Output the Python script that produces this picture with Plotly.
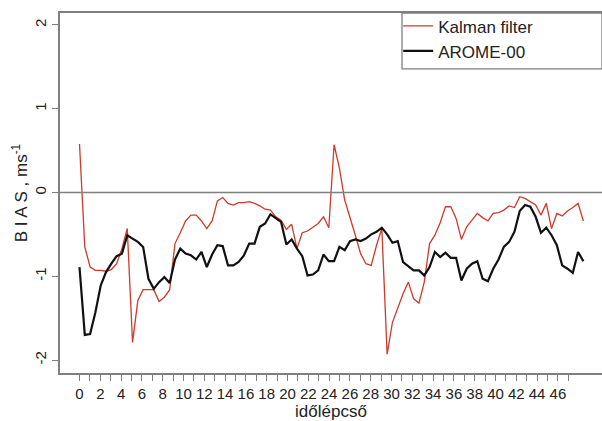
import plotly.graph_objects as go

# BIAS values, one value per half time step
kalman = [0.58, -0.65, -0.89, -0.93, -0.93, -0.94, -0.92, -0.85, -0.67, -0.43,
          -1.79, -1.29, -1.16, -1.16, -1.16, -1.30, -1.25, -1.16, -0.61, -0.48,
          -0.34, -0.27, -0.27, -0.34, -0.43, -0.34, -0.10, -0.06, -0.13, -0.15,
          -0.12, -0.12, -0.11, -0.13, -0.16, -0.20, -0.21, -0.29, -0.33, -0.44,
          -0.38, -0.67, -0.48, -0.46, -0.42, -0.37, -0.29, -0.42, 0.57, 0.29,
          -0.09, -0.29, -0.51, -0.73, -0.85, -0.87, -0.63, -0.43, -1.93, -1.55,
          -1.37, -1.21, -1.07, -1.27, -1.32, -1.07, -0.61, -0.51, -0.36, -0.17,
          -0.17, -0.31, -0.56, -0.41, -0.33, -0.25, -0.30, -0.34, -0.25, -0.24,
          -0.21, -0.16, -0.18, -0.05, -0.07, -0.11, -0.15, -0.27, -0.13, -0.43,
          -0.25, -0.28, -0.22, -0.18, -0.13, -0.34]

arome = [-0.89, -1.70, -1.69, -1.43, -1.11, -0.95, -0.85, -0.76, -0.73, -0.51,
         -0.55, -0.59, -0.65, -1.03, -1.15, -1.07, -1.01, -1.08, -0.80, -0.67,
         -0.73, -0.75, -0.80, -0.71, -0.89, -0.74, -0.63, -0.64, -0.87, -0.87,
         -0.83, -0.75, -0.61, -0.61, -0.41, -0.37, -0.26, -0.31, -0.35, -0.62,
         -0.56, -0.67, -0.76, -0.99, -0.98, -0.93, -0.74, -0.82, -0.82, -0.65,
         -0.69, -0.58, -0.56, -0.58, -0.55, -0.50, -0.47, -0.42, -0.50, -0.60,
         -0.58, -0.83, -0.88, -0.93, -0.93, -0.99, -0.89, -0.71, -0.77, -0.72,
         -0.78, -0.78, -1.05, -0.91, -0.85, -0.82, -1.03, -1.06, -0.91, -0.80,
         -0.65, -0.59, -0.47, -0.22, -0.15, -0.17, -0.29, -0.48, -0.42, -0.51,
         -0.63, -0.87, -0.91, -0.96, -0.71, -0.82]

step_width = 0.51
steps = [i * step_width for i in range(len(kalman))]

x_ticks = list(range(0, 48))
x_labels = [str(t) if t % 2 == 0 else "" for t in x_ticks]
y_ticks = [-2, -1, 0, 1, 2]

axis_col = "#7f7f7f"
text_col = "#222222"

fig = go.Figure()

fig.add_trace(go.Scatter(
    x=steps, y=kalman, mode="lines", name="Kalman filter",
    line=dict(color="#cc3b2b", width=1.3)
))

fig.add_trace(go.Scatter(
    x=steps, y=arome, mode="lines", name="AROME-00",
    line=dict(color="#111111", width=2.2)
))

fig.add_hline(y=0, line=dict(color="#808080", width=1.3))

# legend frame, reaching to the right edge like the original
fig.add_shape(type="rect", xref="paper", yref="paper",
              x0=0.631, x1=1.0, y0=0.845, y1=1.0,
              line=dict(color=axis_col, width=1.3), fillcolor="white", layer="above")

fig.update_layout(
    width=602, height=421,
    margin=dict(l=60, r=0, t=13, b=48),
    paper_bgcolor="white", plot_bgcolor="white",
    font=dict(family="Liberation Sans, Arial, sans-serif", size=15, color=text_col),
    showlegend=True,
    legend=dict(
        x=0.624, y=1.013, xanchor="left", yanchor="top",
        bgcolor="rgba(0,0,0,0)", borderwidth=0,
        font=dict(size=17, color=text_col),
        itemwidth=30, tracegroupgap=0
    ),
    xaxis=dict(
        range=[-1.875, 50.24], automargin=False,
        tickmode="array", tickvals=x_ticks, ticktext=x_labels,
        ticks="outside", ticklen=6, tickwidth=1.2, tickcolor=axis_col,
        showline=True, linecolor=axis_col, linewidth=1.5, mirror=True,
        showgrid=False, zeroline=False,
        tickfont=dict(size=15),
        title=dict(text="időlépcső", font=dict(size=17), standoff=2)
    ),
    yaxis=dict(
        range=[-2.155, 2.143], automargin=False,
        tickmode="array", tickvals=y_ticks, ticktext=[str(v) for v in y_ticks],
        tickangle=-90,
        ticks="outside", ticklen=6, tickwidth=1.2, tickcolor=axis_col,
        showline=True, linecolor=axis_col, linewidth=1.5, mirror=True,
        showgrid=False, zeroline=False,
        tickfont=dict(size=15),
        title=dict(text="B I A S , ms<sup>-1</sup>", font=dict(size=17), standoff=0)
    ),
)

# drop the browser's default page margin so the figure sits at the corner
fig.write_html("out.html", config={"displayModeBar": False},
               post_script="document.body.style.margin='0';")
